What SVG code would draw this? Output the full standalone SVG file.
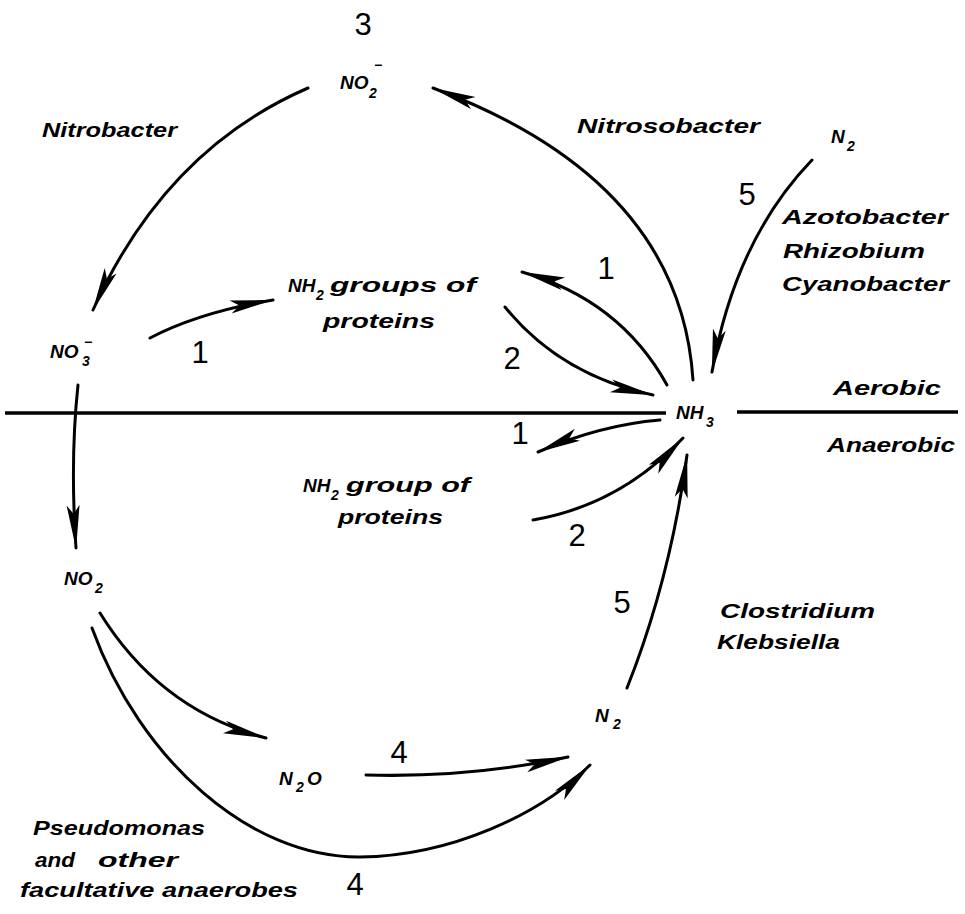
<svg xmlns="http://www.w3.org/2000/svg" width="965" height="914" viewBox="0 0 965 914">
<defs>
<marker id="ah" markerUnits="userSpaceOnUse" viewBox="0 0 44 14" markerWidth="44" markerHeight="14" refX="43" refY="7" orient="auto">
<path d="M0,0.5 L44,7 L0,13.5 L9,7 z" fill="#000"/>
</marker>
</defs>
<style>
.bg{fill:#fff}
.c{fill:none;stroke:#000;stroke-width:3;stroke-linecap:round}
.a{marker-end:url(#ah)}
.ln{stroke:#000;stroke-width:3.5;fill:none}
.org{font-family:"Liberation Sans",Arial,sans-serif;font-style:italic;font-weight:bold;font-size:21px;fill:#000}
.chem{font-family:"Liberation Sans",Arial,sans-serif;font-style:italic;font-weight:bold;font-size:19px;fill:#000}
.sub{font-size:14px}
.num{font-family:"Liberation Sans",Arial,sans-serif;font-size:31px;fill:#000;text-anchor:middle}
</style>
<rect class="bg" x="0" y="0" width="965" height="914"/>

<g id="connectors">
<line class="ln" x1="5" y1="413" x2="666" y2="413"/>
<line class="ln" x1="737" y1="412" x2="958" y2="412"/>
<path class="c a" d="M308,88 Q165,150 93,310"/>
<path class="c a" d="M693,380 Q680,180 433,88"/>
<path class="c a" d="M812,160 Q735,240 712,372"/>
<path class="c a" d="M150,338 Q200,312 273,300"/>
<path class="c a" d="M667,385 Q620,300 522,272"/>
<path class="c a" d="M505,307 Q560,375 653,395"/>
<path class="c a" d="M660,420 Q600,425 538,452"/>
<path class="c a" d="M533,520 Q620,505 683,438"/>
<path class="c a" d="M627,688 Q670,580 687,455"/>
<path class="c a" d="M78,385 Q70,460 76,548"/>
<path class="c a" d="M100,613 Q160,710 266,738"/>
<path class="c a" d="M366,775 Q470,778 568,757"/>
<path class="c a" d="M92,628 C140,760 250,858 360,857 C450,856 540,815 590,765"/>
</g>

<g id="n-no2minus"><text class="chem" x="340" y="89">NO<tspan class="sub" x="369" y="98">2</tspan><tspan class="sub" x="374" y="70">−</tspan></text></g>
<g id="n-no3"><text class="chem" x="50" y="358">NO<tspan class="sub" x="82" y="366">3</tspan><tspan class="sub" x="84" y="347">−</tspan></text></g>
<g id="n-nh3"><text class="chem" x="676" y="419">NH<tspan class="sub" x="706" y="427">3</tspan></text></g>
<g id="n-no2"><text class="chem" x="64" y="585">NO<tspan class="sub" x="95" y="593">2</tspan></text></g>
<g id="n-n2o"><text class="chem" x="279" y="785">N<tspan class="sub" x="296" y="792">2</tspan><tspan x="307" y="785">O</tspan></text></g>
<g id="n-n2low"><text class="chem" x="595" y="722">N<tspan class="sub" x="613" y="729">2</tspan></text></g>
<g id="n-n2top"><text class="chem" x="831" y="143">N<tspan class="sub" x="847" y="151">2</tspan></text></g>
<g id="n-nh2a">
<text class="chem" x="288" y="292">NH<tspan class="sub" x="316" y="300">2</tspan></text>
<text class="org" x="330" y="292" textLength="146" lengthAdjust="spacingAndGlyphs">groups of</text>
<text class="org" x="323" y="328" textLength="112" lengthAdjust="spacingAndGlyphs">proteins</text>
</g>
<g id="n-nh2b">
<text class="chem" x="303" y="492">NH<tspan class="sub" x="331" y="500">2</tspan></text>
<text class="org" x="346" y="492" textLength="124" lengthAdjust="spacingAndGlyphs">group of</text>
<text class="org" x="338" y="524" textLength="105" lengthAdjust="spacingAndGlyphs">proteins</text>
</g>

<g id="labels">
<text class="org" x="42" y="137" textLength="135" lengthAdjust="spacingAndGlyphs">Nitrobacter</text>
<text class="org" x="577" y="133" textLength="183" lengthAdjust="spacingAndGlyphs">Nitrosobacter</text>
<text class="org" x="782" y="224" textLength="166" lengthAdjust="spacingAndGlyphs">Azotobacter</text>
<text class="org" x="783" y="258" textLength="142" lengthAdjust="spacingAndGlyphs">Rhizobium</text>
<text class="org" x="782" y="291" textLength="167" lengthAdjust="spacingAndGlyphs">Cyanobacter</text>
<text class="org" x="833" y="395" textLength="108" lengthAdjust="spacingAndGlyphs">Aerobic</text>
<text class="org" x="827" y="452" textLength="128" lengthAdjust="spacingAndGlyphs">Anaerobic</text>
<text class="org" x="720" y="618" textLength="155" lengthAdjust="spacingAndGlyphs">Clostridium</text>
<text class="org" x="717" y="649" textLength="123" lengthAdjust="spacingAndGlyphs">Klebsiella</text>
<text class="org" x="33" y="835" textLength="172" lengthAdjust="spacingAndGlyphs">Pseudomonas</text>
<text class="org" x="35" y="867" textLength="40" lengthAdjust="spacingAndGlyphs">and</text>
<text class="org" x="98" y="867" textLength="80" lengthAdjust="spacingAndGlyphs">other</text>
<text class="org" x="20" y="897" textLength="278" lengthAdjust="spacingAndGlyphs">facultative anaerobes</text>
<text class="num" x="363" y="35">3</text>
<text class="num" x="747" y="205">5</text>
<text class="num" x="606" y="279">1</text>
<text class="num" x="512" y="369">2</text>
<text class="num" x="200" y="363">1</text>
<text class="num" x="520" y="444">1</text>
<text class="num" x="577" y="546">2</text>
<text class="num" x="622" y="613">5</text>
<text class="num" x="399" y="763">4</text>
<text class="num" x="355" y="895">4</text>
</g>
</svg>
